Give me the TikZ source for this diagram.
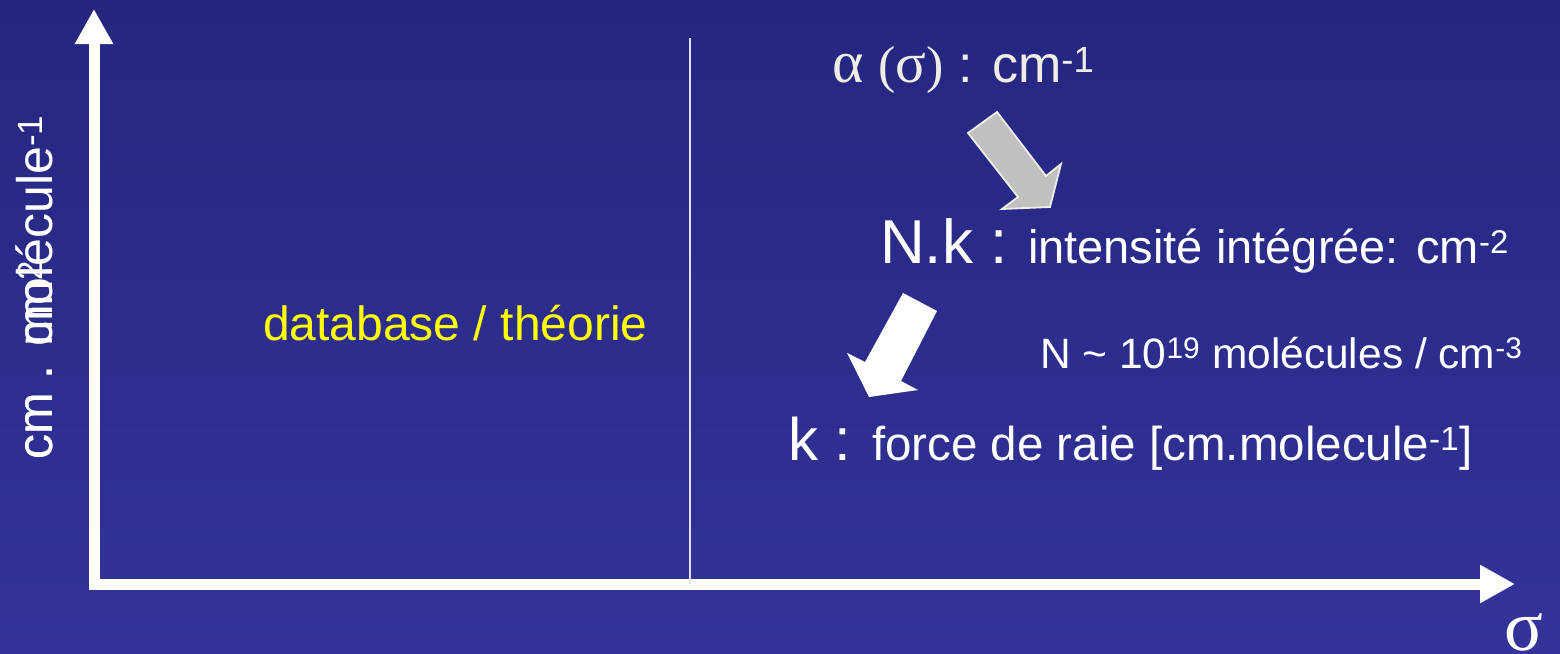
\documentclass[tikz,border=0pt]{standalone}
\usepackage{fontspec}
\setmainfont{Liberation Sans}
\newfontfamily\grkfont{Liberation Serif}
\usetikzlibrary{arrows.meta,positioning}
\definecolor{bgTop}{RGB}{37,38,128}
\definecolor{bgBot}{RGB}{51,51,153}
\definecolor{tY}{RGB}{255,255,0}
\definecolor{tW}{RGB}{240,238,228}
\definecolor{tG}{RGB}{192,192,192}
\definecolor{tL}{RGB}{225,225,245}
\newcommand{\fsz}[1]{\fontsize{#1}{#1}\selectfont}
\tikzset{
  lbl/.style={text=white, inner sep=0pt, anchor=base west},
  axisline/.style={white, line width=11pt, -{Triangle[width=36pt,length=35pt]}},
}

\begin{document}
\begin{tikzpicture}[x=1pt,y=-1pt]
    \shade[top color=bgTop, bottom color=bgBot] (0,0) rectangle (1560,653);
    \useasboundingbox (0,0) rectangle (1560,653);

    \coordinate (yfoot) at (94,589);
    \coordinate (ytop) at (94,9);
    \coordinate (xfoot) at (89,584);
    \coordinate (xend) at (1515,584);
    \coordinate (sepTop) at (690,38);
    \coordinate (sepBot) at (690,584);

    \draw[axisline] (yfoot) -- (ytop);
    \draw[axisline] (xfoot) -- (xend);
    \draw[tL, line width=2pt] (sepTop) -- (sepBot);

    \node[lbl, font=\fsz{50}, rotate=90] (ylab) at (52,460) {cm . molécule\textsuperscript{-1}};
    \node[lbl, font=\fsz{50}, rotate=90] (ylabb) at (52,460) {cm . cm\textsuperscript{2}};
    \node[lbl, font=\fsz{72}] (sigma) at (1504,650) {\grkfont σ};

    \node[lbl, font=\fsz{48}, text=tY] (db) at (263,340) {database / théorie};

    \node[lbl, font=\fsz{52}, text=tW] (alpha) at (832,82) {{\grkfont\fsz{60}α \fsz{52}(\fsz{57}σ\fsz{52})} : cm\textsuperscript{-1}};
    \node[lbl, font=\fsz{62}] (nk) at (880,263) {N.k :};
    \node[lbl, font=\fsz{47}] (intens) at ([xshift=20pt]nk.base east) {intensité intégrée: cm\textsuperscript{-2}};
    \node[lbl, font=\fsz{42.5}] (dens) at (1040,368) {N \textasciitilde{} 10\textsuperscript{19} molécules / cm\textsuperscript{-3}};
    \node[lbl, font=\fsz{60}] (k) at (788,460) {k :};
    \node[lbl, font=\fsz{47.5}] (force) at (872,460) {force de raie [cm.molecule\textsuperscript{-1}]};

    \filldraw[fill=tG, draw=tW, line width=1.8pt] (968,133) -- (997,112) -- (1046,176) -- (1061,164)
        -- (1050,207) -- (1002,209) -- (1018,197) -- cycle;
    \fill[white] (903,293) -- (937,311) -- (901,381) -- (918,390) -- (869,397) -- (847,353) -- (865,362) -- cycle;
\end{tikzpicture}
\end{document}
